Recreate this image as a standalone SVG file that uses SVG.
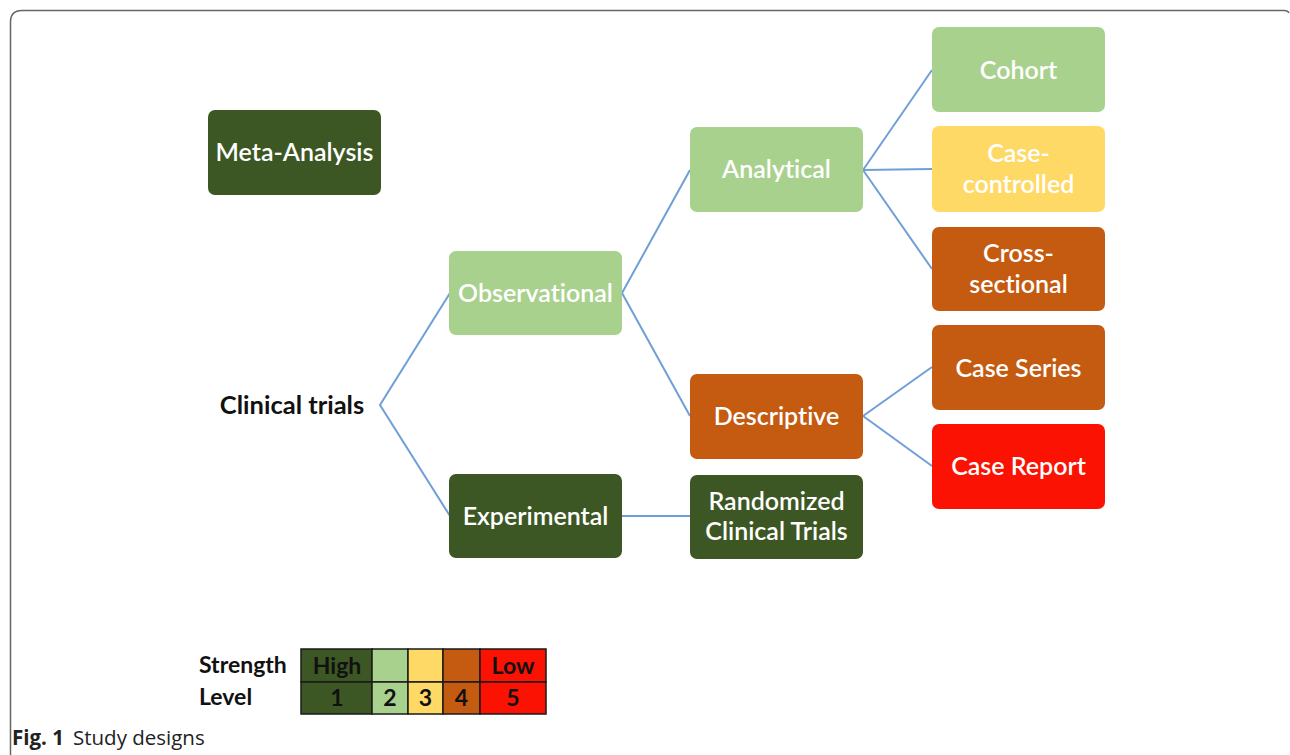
<svg xmlns="http://www.w3.org/2000/svg" width="1290" height="755" viewBox="0 0 1290 755">
  <style>
    text { font-variant-ligatures: none; }
    .box { stroke: none; }
    .dg { fill: #3d5724; }
    .lg { fill: #a9d18e; }
    .yl { fill: #ffd966; }
    .or { fill: #c55a11; }
    .rd { fill: #fb1203; }
    .lbl { font-family: Lato, "Open Sans", sans-serif; font-size: 25px; font-weight: 600; fill: #ffffff; text-anchor: middle; }
    .conn { stroke: #6f9fd6; stroke-width: 2; fill: none; }
    .leg { font-family: Lato, "Open Sans", sans-serif; font-size: 23px; font-weight: 700; fill: #111111; }
    .cell { stroke: #1a1a1a; stroke-width: 1.5; }
  </style>

  <rect width="1290" height="755" fill="#ffffff"/>
  <!-- figure frame -->
  <path d="M10.5 755 V22 Q10.5 10.5 22 10.5 H1284 Q1288 10.5 1289 13" fill="none" stroke="#666666" stroke-width="1.5"/>

  <!-- connectors -->
  <g id="connectors" class="conn">
    <polyline points="450,293 380,405 450,516"/>
    <polyline points="690,170 622,293 690,416"/>
    <line x1="622" y1="516" x2="690" y2="516"/>
    <line x1="863" y1="170" x2="932" y2="70"/>
    <line x1="863" y1="170" x2="932" y2="169"/>
    <line x1="863" y1="170" x2="932" y2="269"/>
    <line x1="863" y1="416" x2="932" y2="367"/>
    <line x1="863" y1="416" x2="932" y2="466"/>
  </g>

  <g id="meta-analysis">
    <rect class="box dg" x="208" y="110" width="173" height="85" rx="7"/>
    <text class="lbl" x="294.5" y="161">Meta-Analysis</text>
  </g>

  <g id="clinical-trials">
    <text x="292" y="414" font-family="Lato, 'Open Sans', sans-serif" font-size="25.5" font-weight="700" fill="#111111" text-anchor="middle">Clinical trials</text>
  </g>

  <g id="observational">
    <rect class="box lg" x="449" y="251" width="173" height="84" rx="7"/>
    <text class="lbl" x="535.5" y="302">Observational</text>
  </g>

  <g id="experimental">
    <rect class="box dg" x="449" y="474" width="173" height="84" rx="7"/>
    <text class="lbl" x="535.5" y="525">Experimental</text>
  </g>

  <g id="analytical">
    <rect class="box lg" x="690" y="127" width="173" height="85" rx="7"/>
    <text class="lbl" x="776.5" y="178">Analytical</text>
  </g>

  <g id="descriptive">
    <rect class="box or" x="690" y="374" width="173" height="85" rx="7"/>
    <text class="lbl" x="776.5" y="425">Descriptive</text>
  </g>

  <g id="randomized-clinical-trials">
    <rect class="box dg" x="690" y="475" width="173" height="84" rx="7"/>
    <text class="lbl" x="776.5" y="510">Randomized</text>
    <text class="lbl" x="776.5" y="540">Clinical Trials</text>
  </g>

  <g id="cohort">
    <rect class="box lg" x="932" y="27" width="173" height="85" rx="7"/>
    <text class="lbl" x="1018.5" y="79">Cohort</text>
  </g>

  <g id="case-controlled">
    <rect class="box yl" x="932" y="126" width="173" height="86" rx="7"/>
    <text class="lbl" x="1018.5" y="162">Case-</text>
    <text class="lbl" x="1018.5" y="193">controlled</text>
  </g>

  <g id="cross-sectional">
    <rect class="box or" x="932" y="227" width="173" height="84" rx="7"/>
    <text class="lbl" x="1018.5" y="262">Cross-</text>
    <text class="lbl" x="1018.5" y="293">sectional</text>
  </g>

  <g id="case-series">
    <rect class="box or" x="932" y="325" width="173" height="85" rx="7"/>
    <text class="lbl" x="1018.5" y="377">Case Series</text>
  </g>

  <g id="case-report">
    <rect class="box rd" x="932" y="424" width="173" height="85" rx="7"/>
    <text class="lbl" x="1018.5" y="475">Case Report</text>
  </g>

  <!-- strength / level legend -->
  <g id="legend">
    <text class="leg" x="199" y="673">Strength</text>
    <text class="leg" x="199" y="705">Level</text>
    <rect class="cell dg" x="301" y="649" width="71" height="33"/>
    <rect class="cell lg" x="372" y="649" width="36" height="33"/>
    <rect class="cell yl" x="408" y="649" width="35" height="33"/>
    <rect class="cell or" x="443" y="649" width="37" height="33"/>
    <rect class="cell rd" x="480" y="649" width="66" height="33"/>
    <rect class="cell dg" x="301" y="682" width="71" height="32"/>
    <rect class="cell lg" x="372" y="682" width="36" height="32"/>
    <rect class="cell yl" x="408" y="682" width="35" height="32"/>
    <rect class="cell or" x="443" y="682" width="37" height="32"/>
    <rect class="cell rd" x="480" y="682" width="66" height="32"/>
    <text class="leg" x="337" y="674" text-anchor="middle">High</text>
    <text class="leg" x="513" y="674" text-anchor="middle">Low</text>
    <text class="leg" x="337" y="706" text-anchor="middle">1</text>
    <text class="leg" x="390" y="706" text-anchor="middle">2</text>
    <text class="leg" x="425.5" y="706" text-anchor="middle">3</text>
    <text class="leg" x="461.5" y="706" text-anchor="middle">4</text>
    <text class="leg" x="513" y="706" text-anchor="middle">5</text>
  </g>

  <!-- caption -->
  <text x="12" y="745" font-family="'Open Sans', sans-serif" font-size="20.5" fill="#222222"><tspan font-weight="700">Fig. 1</tspan><tspan dx="9">Study designs</tspan></text>
</svg>
